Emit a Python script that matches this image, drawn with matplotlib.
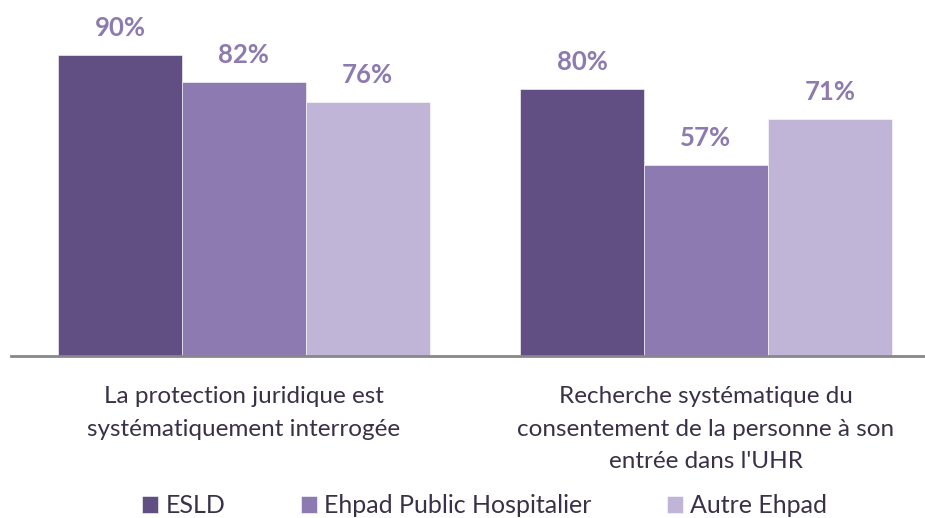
import matplotlib.pyplot as plt
import numpy as np

plt.rcParams['font.family'] = ['Lato', 'DejaVu Sans']

# catégories et séries
categories = ["La protection juridique est\nsystématiquement interrogée",
              "Recherche systématique du\nconsentement de la personne à son\nentrée dans l'UHR"]
series = ["ESLD", "Ehpad Public Hospitalier", "Autre Ehpad"]
values = [
    [90, 80],
    [82, 57],
    [76, 71],
]
colors = ["#614e82", "#8c7ab1", "#c0b5d6"]
label_color = "#8c7ab1"
text_color = "#3a3148"

fig = plt.figure(figsize=(9.25, 5.18), dpi=100)
ax = fig.add_axes([11 / 925, 1 - 356 / 518, 914 / 925, 356 / 518])

x = np.arange(len(categories))
width = 0.268
for i, (name, vals) in enumerate(zip(series, values)):
    pos = x + (i - 1) * width
    bars = ax.bar(pos, vals, width, color=colors[i], label=name,
                  edgecolor="white", linewidth=0.4)
    for b, v in zip(bars, vals):
        ax.text(b.get_x() + b.get_width() / 2, v + 4.5, f"{v}%",
                ha="center", va="bottom", fontsize=18.5, fontweight="bold",
                color=label_color)

ax.set_xlim(-0.504, 1.474)
ax.set_ylim(0, 106.5)
ax.set_yticks([])
ax.set_xticks([])
for s in ["top", "right", "left"]:
    ax.spines[s].set_visible(False)
ax.spines["bottom"].set_color("#888888")
ax.spines["bottom"].set_linewidth(2)

for xi, cat in zip(x, categories):
    ax.text(xi, -9.0, cat, ha="center", va="top", fontsize=17.5,
            color=text_color, linespacing=1.68)

fig.legend(loc="lower center", ncol=3, bbox_to_anchor=(0.524, -0.042),
           frameon=False, fontsize=18, handlelength=0.65, handleheight=0.65,
           handletextpad=0.3, columnspacing=3.0, labelcolor=text_color)

fig.savefig("out.png", dpi=100)
